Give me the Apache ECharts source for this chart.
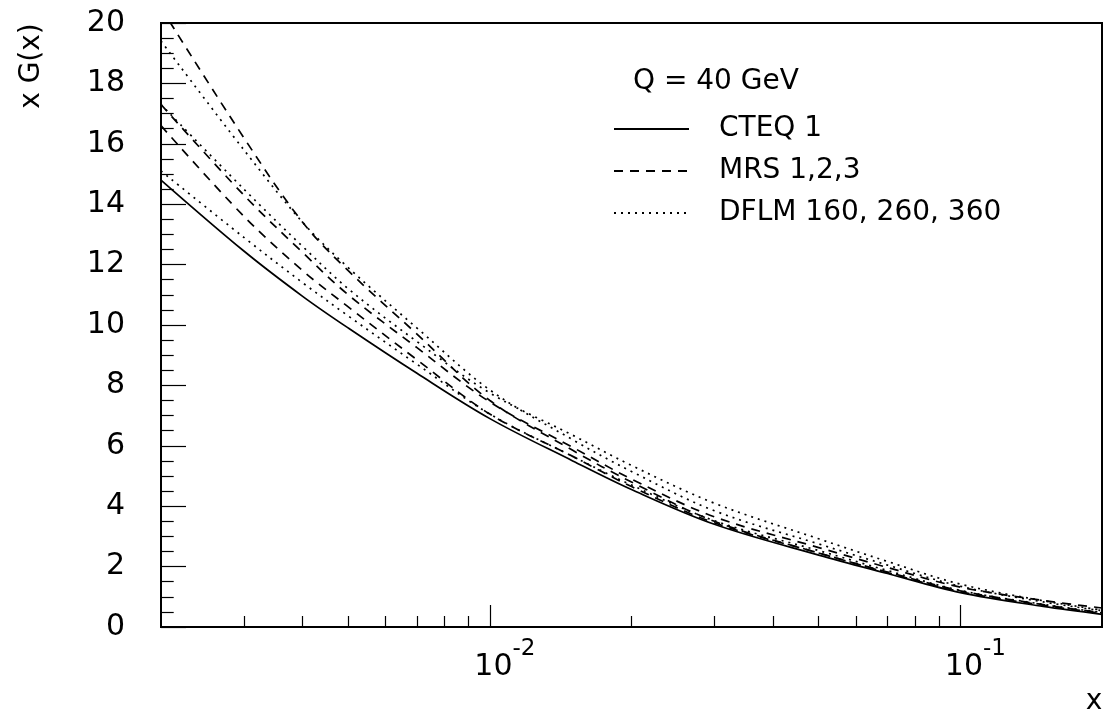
<!DOCTYPE html>
<html>
<head>
<meta charset="utf-8">
<script src="https://cdn.jsdelivr.net/npm/echarts@6/dist/echarts.min.js"></script>
<style>
  html, body { margin: 0; padding: 0; background: #fff; }
  #chart { width: 1104px; height: 713px; }
</style>
</head>
<body>
<div id="chart"></div>
<script>
// x values (log scale) shared by all curves
var xValues = [0.002, 0.003, 0.004, 0.005, 0.007, 0.01, 0.015, 0.02, 0.03, 0.05, 0.07, 0.1, 0.15, 0.2];

// x G(x)
var cteq1 = [14.8, 12.45, 10.95, 9.9, 8.4, 6.9, 5.5, 4.55, 3.4, 2.38, 1.77, 1.14, 0.68, 0.42];
var mrs1 = [20.5, 16.2, 13.4, 11.8, 9.7, 7.5, 5.85, 4.8, 3.5, 2.45, 1.82, 1.2, 0.74, 0.47];
var mrs2 = [17.3, 14.3, 12.4, 11.0, 9.25, 7.45, 5.95, 4.9, 3.65, 2.63, 1.97, 1.32, 0.88, 0.63];
var mrs3 = [16.6, 13.6, 11.8, 10.6, 8.85, 7.05, 5.65, 4.65, 3.45, 2.45, 1.8, 1.17, 0.72, 0.45];
var dflm160 = [19.4, 15.8, 13.4, 11.9, 9.9, 7.85, 6.2, 5.15, 3.85, 2.75, 2.05, 1.35, 0.83, 0.54];
var dflm260 = [17.3, 14.5, 12.6, 11.2, 9.45, 7.75, 6.35, 5.35, 4.1, 2.92, 2.17, 1.42, 0.87, 0.56];
var dflm360 = [15.1, 12.9, 11.4, 10.3, 8.7, 7.05, 5.65, 4.7, 3.52, 2.53, 1.87, 1.21, 0.75, 0.48];

// ticks
var xMinorTicks = [0.003, 0.004, 0.005, 0.006, 0.007, 0.008, 0.009,
                   0.02, 0.03, 0.04, 0.05, 0.06, 0.07, 0.08, 0.09];
var legendNames = ['CTEQ 1', 'MRS 1,2,3', 'DFLM 160, 260, 360'];

var FONT = 'DejaVu Sans';

function pairs(ys) {
    return xValues.map(function (x, i) { return [x, ys[i]]; });
}

function curve(name, ys, type) {
    return {
        name: name,
        type: 'line',
        data: pairs(ys),
        symbol: 'none',
        smooth: 0.35,
        clip: true,
        lineStyle: { color: '#000', width: 1.7, type: type },
        itemStyle: { color: '#000' },
        emphasis: { disabled: true }
    };
}

var chart = echarts.init(document.getElementById('chart'));

var option = {
    animation: false,
    backgroundColor: '#fff',
    title: {
        text: 'Q = 40 GeV',
        left: 633,
        top: 68,
        padding: 0,
        textStyle: { fontFamily: FONT, fontSize: 28, fontWeight: 'normal', color: '#000' }
    },
    legend: {
        data: legendNames,
        orient: 'vertical',
        left: 613,
        top: 114,
        padding: 0,
        itemWidth: 75,
        itemHeight: 20,
        itemGap: 12,
        itemStyle: { opacity: 0 },
        selectedMode: false,
        textStyle: { fontFamily: FONT, fontSize: 28, color: '#000', lineHeight: 30, padding: [0, 0, 0, 25] }
    },
    grid: {
        left: 161,
        right: 2,
        top: 23,
        bottom: 86,
        show: true,
        borderColor: '#000',
        borderWidth: 2
    },
    xAxis: [
        {
            type: 'log',
            logBase: 10,
            min: 0.002,
            max: 0.2,
            axisLine: { show: true, lineStyle: { color: '#000', width: 2 } },
            axisTick: { show: true, inside: true, length: 22, lineStyle: { color: '#000', width: 1.2 } },
            splitLine: { show: false },
            axisLabel: {
                showMinLabel: false,
                showMaxLabel: false,
                margin: 11,
                formatter: function (v) {
                    var e = Math.round(Math.log10(v));
                    return '{a|10}{s|' + (e < 0 ? '-' : '') + Math.abs(e) + '}';
                },
                rich: {
                    a: { fontFamily: FONT, fontSize: 30, color: '#000', lineHeight: 58, padding: [0, 0, 0, 30] },
                    s: { fontFamily: FONT, fontSize: 23, color: '#000', lineHeight: 20, verticalAlign: 'top' }
                }
            }
        },
        {
            type: 'log',
            logBase: 10,
            min: 0.002,
            max: 0.2,
            position: 'bottom',
            axisLine: { show: false },
            axisLabel: { show: false },
            splitLine: { show: false },
            axisTick: {
                show: true,
                inside: true,
                length: 11,
                customValues: xMinorTicks,
                lineStyle: { color: '#000', width: 1.2 }
            }
        }
    ],
    yAxis: {
        type: 'value',
        min: 0,
        max: 20,
        interval: 2,
        axisLine: { show: true, lineStyle: { color: '#000', width: 2 } },
        axisTick: { show: true, inside: true, length: 25, lineStyle: { color: '#000', width: 1.2 } },
        minorTick: { show: true, splitNumber: 4, length: 12.7, lineStyle: { color: '#000', width: 1.2 } },
        splitLine: { show: false },
        axisLabel: { fontFamily: FONT, fontSize: 30, color: '#000', margin: 36 }
    },
    graphic: [
        {
            type: 'text',
            x: 32,
            y: 66,
            rotation: Math.PI / 2,
            style: { text: 'x G(x)', fontFamily: FONT, fontSize: 28, fill: '#000', align: 'center', verticalAlign: 'middle' }
        },
        {
            type: 'text',
            x: 1094,
            y: 702,
            style: { text: 'x', fontFamily: FONT, fontSize: 28, fill: '#000', align: 'center', verticalAlign: 'middle' }
        }
    ],
    series: [
        curve(legendNames[0], cteq1, 'solid'),
        curve(legendNames[1], mrs1, [9, 7]),
        curve(legendNames[1], mrs2, [9, 7]),
        curve(legendNames[1], mrs3, [9, 7]),
        curve(legendNames[2], dflm160, [2, 5]),
        curve(legendNames[2], dflm260, [2, 5]),
        curve(legendNames[2], dflm360, [2, 5])
    ]
};

option && chart.setOption(option);
</script>
</body>
</html>
